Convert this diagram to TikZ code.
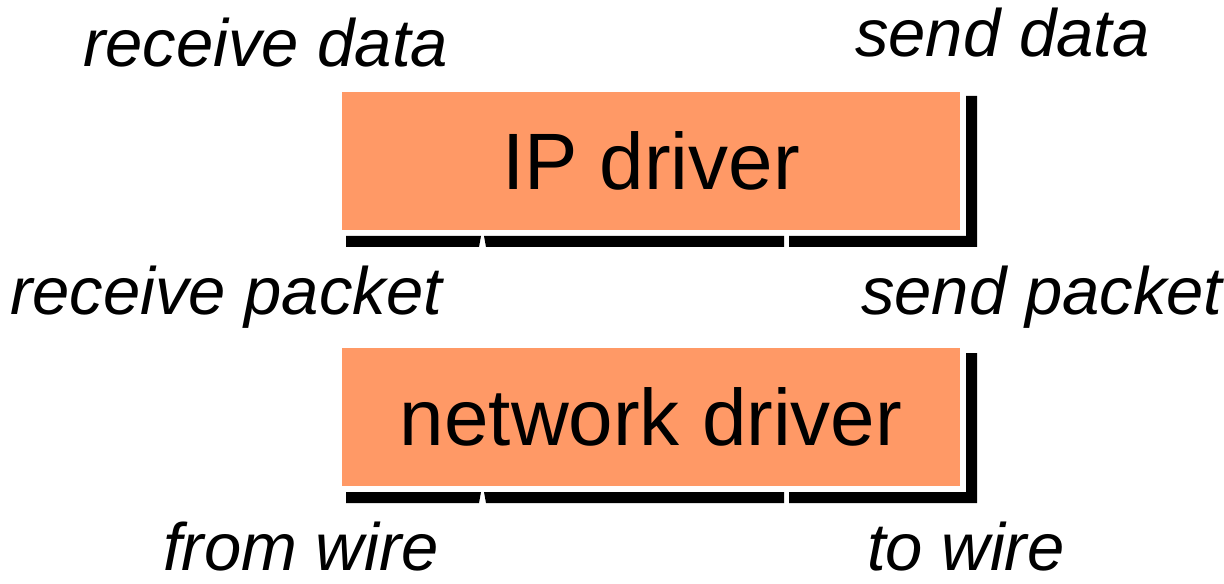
\documentclass[tikz,border=0pt]{standalone}
\usepackage{fontspec}
\setmainfont{Liberation Sans}
\definecolor{boxorange}{RGB}{255,153,102}
\tikzset{
  drvbox/.style={fill=boxorange, draw=none, minimum width=618bp, minimum height=138bp, inner sep=0pt, font=\fontsize{80bp}{96bp}\selectfont},
  lbl/.style={anchor=base west, inner sep=0pt, font=\fontsize{67bp}{80bp}\selectfont\itshape},
  shade/.style={fill=black, draw=none}
}
\begin{document}
\begin{tikzpicture}[x=1bp,y=-1bp]
\useasboundingbox (0,0) rectangle (1224,584);
% IP driver
\fill[shade] (346,236) -- (481,236) -- (479,247) -- (346,247) -- cycle;
\fill[shade] (484,236) -- (784,236) -- (784,247) -- (486,247) -- cycle;
\fill[shade] (789,236) -- (966,236) -- (966,96) -- (977,96) -- (977,247) -- (789,247) -- cycle;
\node[drvbox] (ip) at (651,161) {IP driver};
% network driver
\fill[shade] (346,492) -- (481,492) -- (479,503) -- (346,503) -- cycle;
\fill[shade] (484,492) -- (784,492) -- (784,503) -- (486,503) -- cycle;
\fill[shade] (789,492) -- (966,492) -- (966,353) -- (977,353) -- (977,503) -- (789,503) -- cycle;
\node[drvbox] (net) at (651,417) {network driver};
% labels
\node[lbl] (rd) at (83,67) {receive data};
\node[lbl] (sd) at (855,57) {send data};
\node[lbl] (rp) at (10,315) {receive packet};
\node[lbl] (sp) at (861,315) {send packet};
\node[lbl] (fw) at (163,570) {from wire};
\node[lbl] (tw) at (867,570) {to wire};
\end{tikzpicture}
\end{document}
